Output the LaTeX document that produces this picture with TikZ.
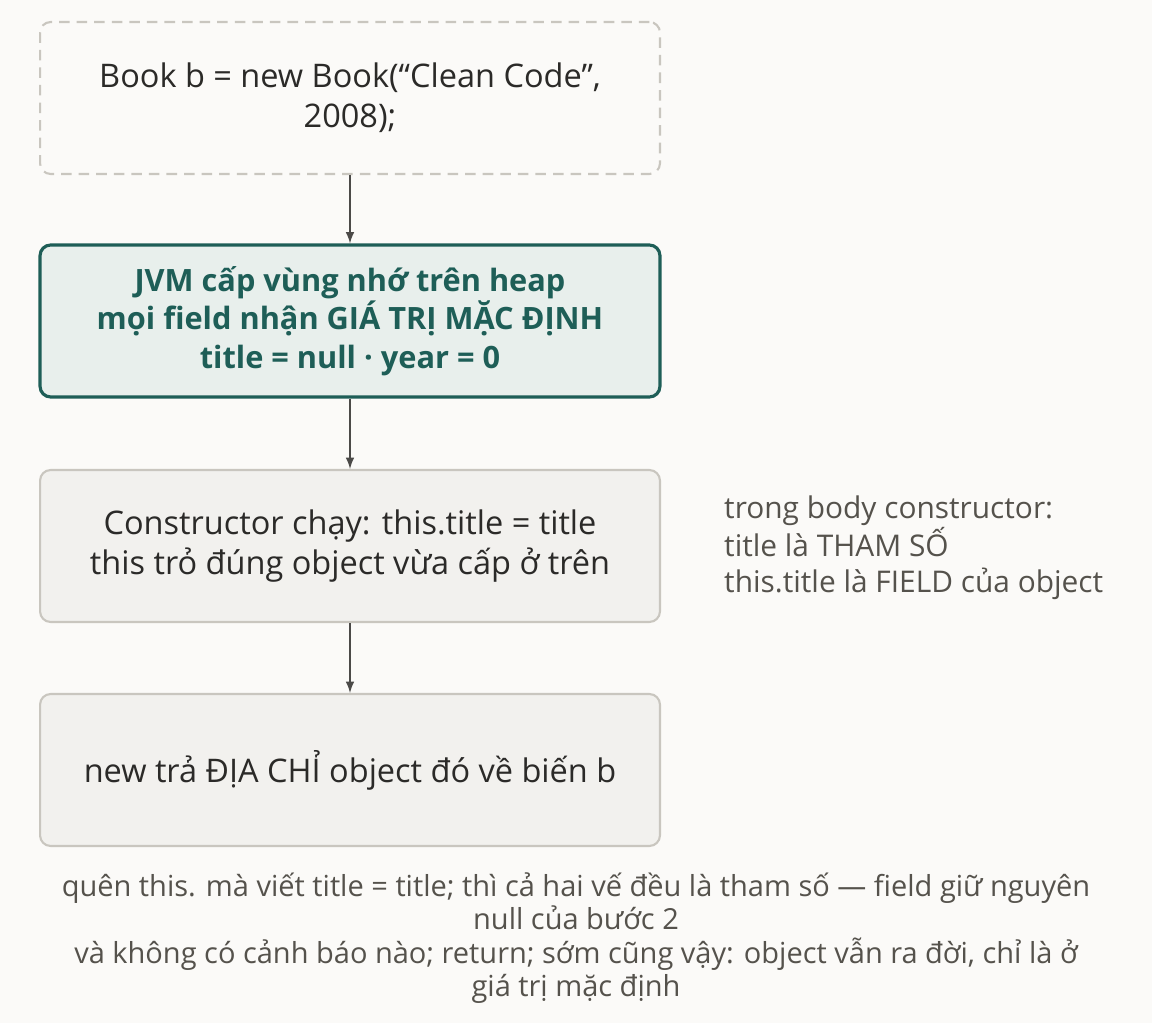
\documentclass[tikz,border=0pt]{standalone}
\usepackage{fontspec}
\setmainfont{Open Sans}
\usetikzlibrary{positioning}
\definecolor{ink}{HTML}{2B2A28}
\definecolor{teal}{HTML}{1E5E57}
\definecolor{tealbg}{HTML}{E8EFEC}
\definecolor{boxbg}{HTML}{F2F1EE}
\definecolor{boxline}{HTML}{C9C6BF}
\definecolor{note}{HTML}{55524C}
\begin{document}
\begin{tikzpicture}[x=0.02cm,y=-0.02cm,
  stage/.style={draw=boxline, line width=1.2pt, rounded corners=6pt, fill=boxbg,
    minimum width=12.4cm, minimum height=3.04cm, align=center, text=ink,
    font=\fontsize{18.5}{23}\selectfont},
  arr/.style={->, >=latex, draw=ink!85, line width=1.2pt}]
\fill[fill={rgb,255:red,251;green,250;blue,248}] (0,0) rectangle (1152,1023);
\useasboundingbox (0,0) rectangle (1152,1023);
		\node[stage, fill=none, dashed, dash pattern=on 6pt off 4pt] (call) at (350,98) {Book b = new Book(“Clean Code”,\\2008);};
		\node[stage, draw=teal, fill=tealbg, text=teal, line width=1.8pt, font=\fontsize{17.5}{22}\selectfont\bfseries] (alloc) at (350,321) {JVM cấp vùng nhớ trên heap\\mọi field nhận GIÁ TRỊ MẶC ĐỊNH\\title = null · year = 0};
		\node[stage] (ctor) at (350,546) {Constructor chạy: this.title = title\\this trỏ đúng object vừa cấp ở trên};
		\node[stage] (ret) at (350,770) {new trả ĐỊA CHỈ object đó về biến b};
		\node[anchor=west, align=left, text=note, font=\fontsize{17}{20.5}\selectfont] (side) at (718,548) {trong body constructor:\\title là THAM SỐ\\this.title là FIELD của object};
		\node[align=center, text=note, font=\fontsize{16.5}{19}\selectfont] (warn) at (576,938) {quên this. mà viết title = title; thì cả hai vế đều là tham số — field giữ nguyên\\null của bước 2\\và không có cảnh báo nào; return; sớm cũng vậy: object vẫn ra đời, chỉ là ở\\giá trị mặc định};
		\draw[arr] (call) -- (alloc);
		\draw[arr] (alloc) -- (ctor);
		\draw[arr] (ctor) -- (ret);
\end{tikzpicture}
\end{document}
